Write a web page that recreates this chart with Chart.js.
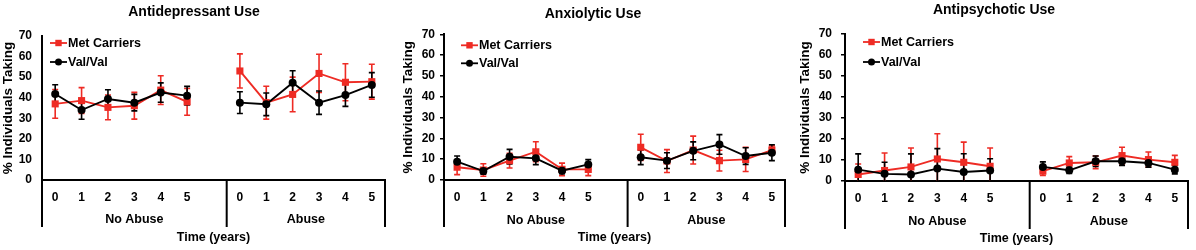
<!DOCTYPE html>
<html><head><meta charset="utf-8">
<script src="https://cdn.jsdelivr.net/npm/chart.js@4"></script>
<style>
html,body{margin:0;padding:0;background:#fff;width:1196px;height:250px;overflow:hidden}
.p{position:absolute;top:0;height:250px}
canvas{display:block}
</style></head><body>
<div class="p" style="left:0px;width:390px"><canvas id="c1" width="390" height="250"></canvas></div>
<div class="p" style="left:398px;width:392px"><canvas id="c2" width="392" height="250"></canvas></div>
<div class="p" style="left:797px;width:396px"><canvas id="c3" width="396" height="250"></canvas></div>
<script>
// ---- data ----
const xLabels = ['0','1','2','3','4','5','','0','1','2','3','4','5'];
const groupLabels = ['No Abuse','Abuse'];
const seriesNames = ['Met Carriers','Val/Val'];
const yTicks = [0,10,20,30,40,50,60,70];

const titles = ['Antidepressant Use','Anxiolytic Use','Antipsychotic Use'];

const adMet    = [37, 38.6, 35.3, 36.1, 43.7, 38, null, 53, 37.6, 41.6, 51.8, 47.5, 47.8];
const adMetErr = [7, 6.3, 6, 6.5, 7, 6.5, null, 8.3, 8, 8.4, 9.3, 9, 8.5];
const adVal    = [41.8, 34, 39.4, 37.6, 42.5, 41, null, 37.6, 36.8, 47.3, 37.6, 41.3, 46.2];
const adValErr = [4.5, 4.5, 4.5, 4, 4.7, 4.5, null, 5.3, 5.5, 5.8, 5.7, 5.5, 6];

const axMet    = [6.1, 4.8, 9.3, 13.6, 5.1, 5.1, null, 15.7, 9.1, 14.4, 9.3, 9.9, 14.4];
const axMetErr = [3.5, 3, 3.5, 4.8, 3, 3, null, 6.3, 5.5, 6.7, 5, 5.8, 2];
const axVal    = [8.8, 4.3, 11.2, 10.4, 4.5, 7.5, null, 10.9, 9.3, 14, 17.1, 11.5, 13.1];
const axValErr = [2.7, 1.5, 3.5, 3, 1.5, 2.3, null, 3.5, 3.8, 4.3, 4.7, 4, 3.8];

const apMet    = [3.1, 5, 6.7, 10.5, 8.9, 7, null, 4.7, 8.6, 8.9, 12.1, 10.2, 8.9];
const apMetErr = [5, 8.3, 9, 12, 9.6, 8.7, null, 2, 3, 3, 4, 3.6, 3.3];
const apVal    = [5.4, 3.4, 3.1, 5.9, 4.3, 5, null, 6.7, 5.1, 9.4, 9.4, 8.6, 5.4];
const apValErr = [7.5, 5.5, 9.8, 9.5, 8.7, 5.6, null, 2.4, 1.5, 2.5, 2, 2, 2];

// ---- styling ----
const FONT = "'Liberation Sans', Arial, Helvetica, sans-serif";
const RED = '#ee2b24';
const BLACK = '#000000';

const errorBars = {
  id: 'errorBars',
  beforeDatasetsDraw(chart) {
    const ctx = chart.ctx, xs = chart.scales.x, ys = chart.scales.y;
    ctx.save();
    chart.data.datasets.forEach((ds) => {
      ctx.strokeStyle = ds.borderColor;
      ctx.lineWidth = 1.6;
      ds.data.forEach((v, i) => {
        const e = ds.errors[i];
        if (v === null || e === null) return;
        const px = xs.getPixelForValue(i);
        const hi = v + e, lo = v - e;
        const yT = ys.getPixelForValue(hi);
        const yB = ys.getPixelForValue(Math.max(0, lo));
        ctx.beginPath();
        ctx.moveTo(px, yT); ctx.lineTo(px, yB);
        ctx.moveTo(px - 3, yT); ctx.lineTo(px + 3, yT);
        if (lo > 0) { ctx.moveTo(px - 3, yB); ctx.lineTo(px + 3, yB); }
        ctx.stroke();
      });
    });
    ctx.restore();
  }
};

const groupBrackets = {
  id: 'groupBrackets',
  afterDraw(chart, args, o) {
    const ctx = chart.ctx, xs = chart.scales.x, a = chart.chartArea;
    const gap = xLabels.indexOf('');
    const div = (xs.getPixelForValue(gap) + xs.getPixelForValue(gap + 1)) / 2;
    ctx.save();
    ctx.strokeStyle = BLACK; ctx.lineWidth = 2;
    ctx.beginPath();
    [a.left, div, a.right].forEach(px => { ctx.moveTo(px, a.bottom); ctx.lineTo(px, a.bottom + o.len); });
    ctx.stroke();
    ctx.fillStyle = BLACK;
    ctx.font = 'bold 12.5px ' + FONT;
    ctx.textAlign = 'center'; ctx.textBaseline = 'middle';
    ctx.fillText(groupLabels[0], (a.left + div) / 2, a.bottom + o.labelY);
    ctx.fillText(groupLabels[1], (div + a.right) / 2, a.bottom + o.labelY);
    ctx.restore();
  }
};

const innerLegend = {
  id: 'innerLegend',
  afterDatasetsDraw(chart, args, o) {
    const ctx = chart.ctx, a = chart.chartArea;
    ctx.save();
    chart.data.datasets.forEach((ds, k) => {
      const x0 = a.left + o.x, y0 = a.top + o.y[k];
      ctx.strokeStyle = ds.borderColor; ctx.lineWidth = 1.8;
      ctx.beginPath(); ctx.moveTo(x0, y0); ctx.lineTo(x0 + 17, y0); ctx.stroke();
      ctx.fillStyle = ds.borderColor;
      if (ds.pointStyle === 'rect') { ctx.fillRect(x0 + 8.5 - 3.2, y0 - 3.2, 6.4, 6.4); }
      else { ctx.beginPath(); ctx.arc(x0 + 8.5, y0, 3.5, 0, Math.PI * 2); ctx.fill(); }
      ctx.fillStyle = BLACK;
      ctx.font = 'bold 12.5px ' + FONT;
      ctx.textAlign = 'left'; ctx.textBaseline = 'middle';
      ctx.fillText(ds.label, x0 + 18, y0 + 0.5);
    });
    ctx.restore();
  }
};

function makeChart(id, title, met, metErr, val, valErr, p) {
  return new Chart(document.getElementById(id), {
    type: 'line',
    data: {
      labels: xLabels,
      datasets: [
        { label: seriesNames[0], data: met, errors: metErr, borderColor: RED, backgroundColor: RED,
          borderWidth: 1.9, pointStyle: 'rect', pointRadius: 5, pointBorderWidth: 0, spanGaps: false, order: 1 },
        { label: seriesNames[1], data: val, errors: valErr, borderColor: BLACK, backgroundColor: BLACK,
          borderWidth: 1.9, pointStyle: 'circle', pointRadius: 4, pointBorderWidth: 0, spanGaps: false, order: 0 }
      ]
    },
    options: {
      responsive: false, animation: false, events: [],
      layout: { padding: { left: 0, right: 2, top: 0, bottom: 0 } },
      plugins: {
        legend: { display: false }, tooltip: { enabled: false },
        title: { display: true, text: title, color: BLACK,
          font: { family: FONT, size: 14, weight: 'bold' }, padding: { top: p.tTop, bottom: p.tBot } },
        groupBrackets: { len: p.brLen, labelY: p.grpY },
        innerLegend: { x: p.legX, y: p.legY }
      },
      scales: {
        x: {
          type: 'category', offset: true,
          grid: { display: false, drawTicks: false },
          border: { display: true, color: BLACK, width: 2 },
          ticks: { color: BLACK, font: { family: FONT, size: 12, weight: 'bold' }, padding: 10, maxRotation: 0, autoSkip: false },
          title: { display: true, text: 'Time (years)', color: BLACK,
            font: { family: FONT, size: 12.5, weight: 'bold' }, padding: { top: 0, bottom: p.xtBot } },
          afterFit(s) { s.height = p.xH; }
        },
        y: {
          min: 0, max: 70,
          afterBuildTicks(s) { s.ticks = yTicks.map(v => ({ value: v })); },
          grid: p.yTickMarks
            ? { display: true, drawOnChartArea: false, drawTicks: true, tickLength: 4, color: BLACK, lineWidth: 1.5 }
            : { display: false, drawTicks: false },
          border: { display: true, color: BLACK, width: 2 },
          ticks: { color: BLACK, font: { family: FONT, size: 12, weight: 'bold' }, padding: p.ytPad },
          title: { display: true, text: '% Individuals Taking', color: BLACK,
            font: { family: FONT, size: 13.5, weight: 'bold' }, padding: { top: p.yTitlePad, bottom: 0 } },
          afterFit(s) { s.width = p.yW; }
        }
      }
    },
    plugins: [errorBars, groupBrackets, innerLegend]
  });
}

makeChart('c1', titles[0], adMet, adMetErr, adVal, adValErr,
  { tTop: 3.6, tBot: 15.6, xH: 70, xtBot: 5, yW: 42, yTickMarks: false, ytPad: 10, yTitlePad: 0,
    brLen: 47, grpY: 39.5, legX: 8, legY: [7, 26] });
makeChart('c2', titles[1], axMet, axMetErr, axVal, axValErr,
  { tTop: 5.4, tBot: 12.1, xH: 70, xtBot: 4.5, yW: 46, yTickMarks: true, ytPad: 5, yTitlePad: 2.4,
    brLen: 47, grpY: 40.5, legX: 17, legY: [11, 29] });
makeChart('c3', titles[2], apMet, apMetErr, apVal, apValErr,
  { tTop: 2.1, tBot: 15.1, xH: 69, xtBot: 3.5, yW: 48, yTickMarks: true, ytPad: 9, yTitlePad: 0.4,
    brLen: 48, grpY: 40.5, legX: 18, legY: [8, 28] });
</script>
</body></html>
